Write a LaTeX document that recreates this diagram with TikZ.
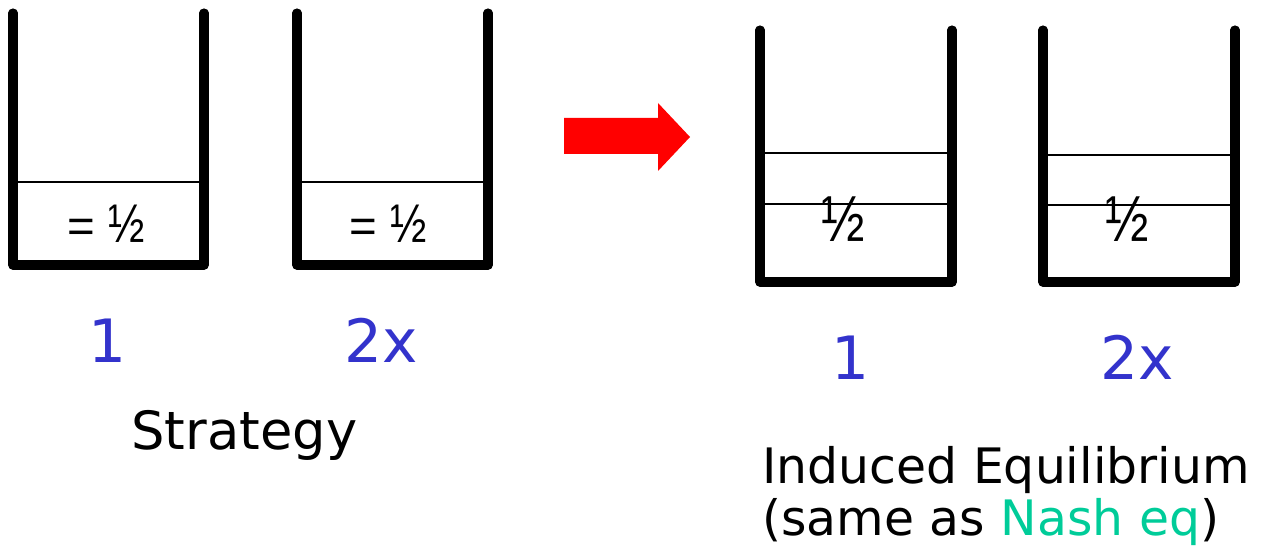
\documentclass[tikz,border=0pt]{standalone}
\usepackage{fontspec}
\setmainfont{DejaVu Sans}
\newfontfamily\fracfont{Liberation Sans}
\usepackage{xcolor}
\usepackage{graphicx}
\usepackage{tikz}
\usetikzlibrary{positioning}
\definecolor{stratblau}{HTML}{3333CC}
\definecolor{nashgruen}{HTML}{00CC99}
\newcommand{\halbklein}{{\fontsize{31}{36}\selectfont\scalebox{0.8}[1]{½}}}
\newcommand{\halbgross}{{\fontsize{37}{42}\selectfont\scalebox{0.8}[1]{½}}}

\begin{document}
\begin{tikzpicture}[x=0.02cm, y=-0.02cm,
  wand/.style={line width=5.2pt, line cap=round, line join=round},
  pegel/.style={line width=1.1pt},
  anteil/.style={font=\fracfont\fontsize{27}{30}\selectfont, anchor=base, inner sep=0pt},
  strat/.style={font=\fontsize{34}{40}\selectfont, text=stratblau, anchor=base, inner sep=0pt},
  titel/.style={font=\fontsize{27.8}{34}\selectfont, anchor=base west, inner sep=0pt}
]
\useasboundingbox (0,0) rectangle (1268,550);

% strategy: two containers
\draw[wand] (13,13) -- (13,265) -- (204,265) -- (204,13);
\draw[pegel] (16,182) -- (201,182);
\node[anteil] (a1) at (106,243) {= \halbklein};

\draw[wand] (297,13) -- (297,265) -- (488,265) -- (488,13);
\draw[pegel] (300,182) -- (485,182);
\node[anteil] (a2) at (388,243) {= \halbklein};

\node[strat] (k1) at (108,363) {1};
\node[strat] (k2) at (381,363) {2x};
\node[titel, font=\fontsize{30}{36}\selectfont] (strategie) at (131,450) {Strategy};

% arrow
\fill[red] (564,118) -- (658,118) -- (658,103) -- (690,137) -- (658,171)
  -- (658,154) -- (564,154) -- cycle;

% induced equilibrium: two containers
\draw[wand] (760,30) -- (760,282) -- (952,282) -- (952,30);
\draw[pegel] (763,153) -- (949,153);
\draw[pegel] (763,204) -- (949,204);
\node[anteil] (g1) at (843,242) {\halbgross};

\draw[wand] (1043,30) -- (1043,282) -- (1235,282) -- (1235,30);
\draw[pegel] (1046,155) -- (1232,155);
\draw[pegel, line width=1.6pt] (1046,205) -- (1232,205);
\node[anteil] (g2) at (1127,242) {\halbgross};

\node[strat] (k3) at (850,380) {1};
\node[strat] (k4) at (1137,380) {2x};

\node[titel] (gleich) at (762,483) {Induced Equilibrium};
\node[titel] (nash) at (762,535) {(same as \textcolor{nashgruen}{Nash eq})};
\end{tikzpicture}
\end{document}
